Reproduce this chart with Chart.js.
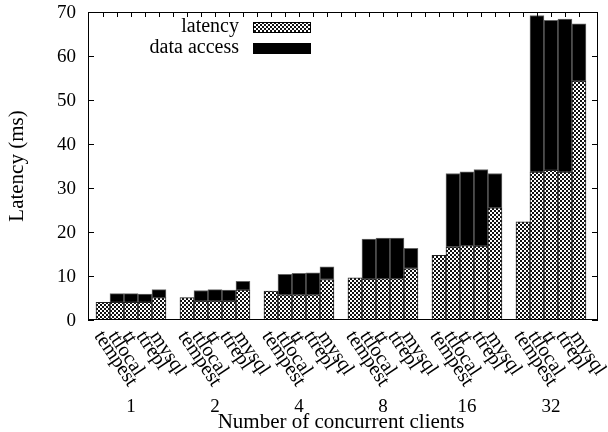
<!DOCTYPE html>
<html>
<head>
<meta charset="UTF-8" />
<title>Latency</title>
<script src="https://cdn.jsdelivr.net/npm/chart.js"></script>
<style>
  html, body { margin: 0; padding: 0; background: #fff; }
  #wrap { position: relative; width: 608px; height: 432px; }
</style>
</head>
<body>
<div id="wrap"><canvas id="c"></canvas></div>
<script>
  // groups along the x axis and the bars inside each group
  const clients = ['1', '2', '4', '8', '16', '32'];
  const systems = ['tempest', 'ttlocal', 'tt', 'ttrepl', 'mysql'];

  // latency part (ms), one array per system, one value per client count
  const latTempest = [4.0, 5.1, 6.6, 9.6, 14.7, 22.3];
  const latTtlocal = [4.0, 4.3, 5.7, 9.3, 16.6, 33.6];
  const latTt      = [4.0, 4.3, 5.7, 9.4, 16.9, 34.0];
  const latTtrepl  = [4.0, 4.3, 5.7, 9.4, 16.8, 33.6];
  const latMysql   = [5.1, 6.8, 9.2, 11.7, 25.5, 54.3];

  // data access part (ms), stacked on top
  const accTempest = [0, 0, 0, 0, 0, 0];
  const accTtlocal = [2.0, 2.4, 4.7, 9.1, 16.7, 35.6];
  const accTt      = [2.0, 2.6, 4.9, 9.2, 16.8, 34.1];
  const accTtrepl  = [1.9, 2.5, 5.0, 9.2, 17.4, 34.8];
  const accMysql   = [1.8, 2.0, 2.9, 4.6, 7.8, 13.0];

  const yTicks = [0, 10, 20, 30, 40, 50, 60, 70];

  const latency = [latTempest, latTtlocal, latTt, latTtrepl, latMysql];
  const access = [accTempest, accTtlocal, accTt, accTtrepl, accMysql];
  const slot = systems.length + 1; // 5 bars + 1 gap per group

  function points(src) {
    const out = [];
    clients.forEach((c, g) => {
      systems.forEach((s, k) => {
        const v = src[k][g];
        out.push({ x: g * slot + k, y: v === 0 ? null : v });
      });
    });
    return out;
  }

  function checker() {
    const c = document.createElement('canvas');
    c.width = 4; c.height = 4;
    const g = c.getContext('2d');
    g.fillStyle = '#fff';
    g.fillRect(0, 0, 4, 4);
    g.fillStyle = '#111';
    g.fillRect(0, 0, 2, 2);
    g.fillRect(2, 2, 2, 2);
    return g.createPattern(c, 'repeat');
  }
  const hatch = checker();

  const serif = "'Liberation Serif', 'DejaVu Serif', serif";

  const decor = {
    id: 'decor',
    afterDraw(chart) {
      const { ctx, chartArea: a, scales: { x, y } } = chart;
      const line = (x1, y1, x2, y2) => { ctx.beginPath(); ctx.moveTo(x1, y1); ctx.lineTo(x2, y2); ctx.stroke(); };
      ctx.save();
      ctx.strokeStyle = '#000';
      ctx.fillStyle = '#000';
      ctx.lineWidth = 1;
      ctx.strokeRect(a.left + 0.5, a.top + 0.5, a.right - a.left - 1, a.bottom - a.top - 1);

      // y ticks and labels
      ctx.font = '19px ' + serif;
      ctx.textAlign = 'right';
      ctx.textBaseline = 'middle';
      yTicks.forEach(v => {
        const py = Math.round(y.getPixelForValue(v)) + 0.5;
        line(a.left, py, a.left + 6, py);
        line(a.right - 6, py, a.right, py);
        ctx.fillText(String(v), a.left - 12, py + 1);
      });
      for (let i = 0; i < clients.length * slot - 1; i++) {
        const px = Math.round(x.getPixelForValue(i)) + 0.5;
        line(px, a.top, px, a.top + 5);
      }

      // rotated system names under every bar
      ctx.font = '20px ' + serif;
      ctx.textAlign = 'left';
      ctx.textBaseline = 'middle';
      clients.forEach((c, g) => {
        systems.forEach((s, k) => {
          const px = x.getPixelForValue(g * slot + k);
          ctx.save();
          ctx.translate(px - 5, a.bottom + 13);
          ctx.rotate(56 * Math.PI / 180);
          ctx.fillText(s, 0, 0);
          ctx.restore();
        });
      });

      // group numbers
      ctx.font = '19px ' + serif;
      ctx.textAlign = 'center';
      ctx.textBaseline = 'middle';
      clients.forEach((c, g) => {
        ctx.fillText(c, x.getPixelForValue(g * slot + 2), 407);
      });

      // axis titles
      ctx.font = '21px ' + serif;
      ctx.fillText('Number of concurrent clients', (a.left + a.right) / 2 - 2, 422);
      ctx.save();
      ctx.translate(17, (a.top + a.bottom) / 2);
      ctx.rotate(-Math.PI / 2);
      ctx.fillText('Latency (ms)', 0, 0);
      ctx.restore();

      // key
      ctx.font = '20px ' + serif;
      const key = [['latency', hatch], ['data access', '#000']];
      key.forEach(([t, fill], i) => {
        const ky = 22 + i * 21;
        ctx.textAlign = 'right';
        ctx.textBaseline = 'middle';
        ctx.fillStyle = '#000';
        ctx.fillText(t, 239, ky + 5);
        ctx.fillStyle = fill;
        ctx.fillRect(253, ky, 57, 10);
        ctx.strokeRect(253.5, ky + 0.5, 57, 10);
      });
      ctx.restore();
    }
  };

  new Chart(document.getElementById('c'), {
    type: 'bar',
    data: {
      datasets: [{
        label: 'latency',
        data: points(latency),
        backgroundColor: hatch,
        borderColor: '#222',
        borderWidth: 1,
        borderSkipped: false,
        barPercentage: 1,
        categoryPercentage: 1
      }, {
        label: 'data access',
        data: points(access),
        backgroundColor: '#000',
        borderColor: '#666',
        borderWidth: 1,
        borderSkipped: false,
        barPercentage: 1,
        categoryPercentage: 1
      }]
    },
    options: {
      responsive: true,
      maintainAspectRatio: false,
      animation: false,
      layout: { padding: { top: 12, right: 10, bottom: 112, left: 0 } },
      plugins: { legend: { display: false }, tooltip: { enabled: false } },
      scales: {
        x: {
          type: 'linear',
          stacked: true,
          offset: false,
          min: -1.07,
          max: 35.36,
          display: false
        },
        y: {
          stacked: true,
          min: 0,
          max: 70,
          afterBuildTicks: s => { s.ticks = yTicks.map(v => ({ value: v })); },
          afterFit: s => { s.width = 88; },
          grid: { display: false, drawTicks: false },
          border: { display: false },
          ticks: { display: false }
        }
      }
    },
    plugins: [decor]
  });
</script>
</body>
</html>
